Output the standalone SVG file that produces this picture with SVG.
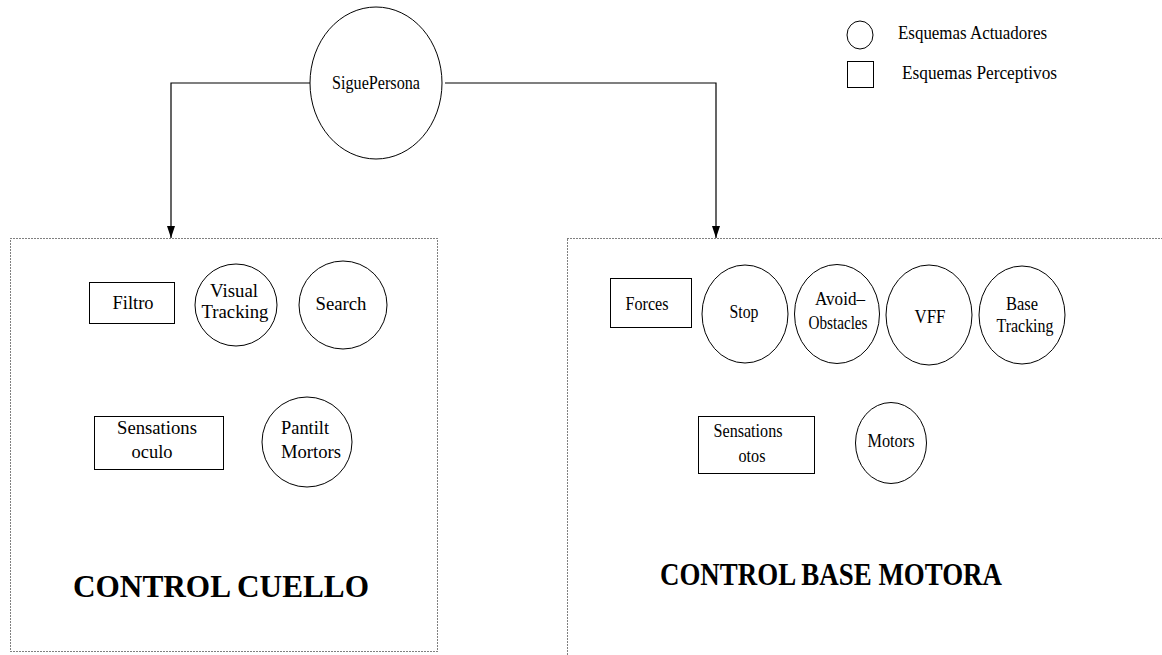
<svg xmlns="http://www.w3.org/2000/svg" width="1162" height="655" viewBox="0 0 1162 655">
  <style>
    .shape { fill: #fff; stroke: #000; stroke-width: 1; }
    .group { fill: none; stroke: #000; stroke-width: 1; stroke-dasharray: 1 2; }
    .link { fill: none; stroke: #000; stroke-width: 1.2; }
    text { font-family: "Liberation Serif", "Times New Roman", serif; fill: #000; }
    .t18 { font-size: 18px; }
    .title { font-size: 32px; font-weight: bold; }
    .mid { text-anchor: middle; }
  </style>
  <defs>
    <marker id="arrow" viewBox="0 0 12 8" refX="12" refY="4" markerWidth="12" markerHeight="8" markerUnits="userSpaceOnUse" orient="auto">
      <path d="M0,0 L12,4 L0,8 Z" fill="#000"/>
    </marker>
  </defs>

  <!-- Root schema -->
  <g id="siguepersona">
    <ellipse class="shape" cx="376" cy="83" rx="66" ry="76"/>
    <text class="t18 mid" x="376" y="89" textLength="88" lengthAdjust="spacingAndGlyphs">SiguePersona</text>
  </g>

  <!-- Legend -->
  <g id="legend">
    <ellipse class="shape" cx="860" cy="35" rx="13" ry="14"/>
    <text class="t18" x="898" y="39" textLength="149" lengthAdjust="spacingAndGlyphs">Esquemas Actuadores</text>
    <rect class="shape" x="847.5" y="61.5" width="26" height="26"/>
    <text class="t18" x="902" y="79" textLength="155" lengthAdjust="spacingAndGlyphs">Esquemas Perceptivos</text>
  </g>

  <!-- Connectors -->
  <g id="connectors">
    <path class="link" d="M310,83 H171 V238" marker-end="url(#arrow)"/>
    <path class="link" d="M445,83 H716 V238" marker-end="url(#arrow)"/>
  </g>

  <!-- Neck control block -->
  <g id="control-cuello">
    <rect class="group" x="10.5" y="238.5" width="427" height="413"/>
    <text class="title mid" x="221" y="597" textLength="296" lengthAdjust="spacingAndGlyphs">CONTROL CUELLO</text>
  </g>
  <g id="filtro">
    <rect class="shape" x="89.5" y="282.5" width="85" height="41"/>
    <text class="t18 mid" x="133" y="309" textLength="41" lengthAdjust="spacingAndGlyphs">Filtro</text>
  </g>
  <g id="visual-tracking">
    <ellipse class="shape" cx="236" cy="305" rx="41" ry="41"/>
    <text class="t18 mid" x="234" y="297" textLength="48" lengthAdjust="spacingAndGlyphs">Visual</text>
    <text class="t18 mid" x="235" y="318" textLength="67" lengthAdjust="spacingAndGlyphs">Tracking</text>
  </g>
  <g id="search">
    <ellipse class="shape" cx="343" cy="305" rx="44" ry="44"/>
    <text class="t18 mid" x="341" y="310" textLength="51" lengthAdjust="spacingAndGlyphs">Search</text>
  </g>
  <g id="sensations-oculo">
    <rect class="shape" x="94.5" y="416.5" width="129" height="53"/>
    <text class="t18 mid" x="157" y="434" textLength="80" lengthAdjust="spacingAndGlyphs">Sensations</text>
    <text class="t18 mid" x="152" y="458" textLength="41" lengthAdjust="spacingAndGlyphs">oculo</text>
  </g>
  <g id="pantilt-mortors">
    <ellipse class="shape" cx="307" cy="442" rx="45" ry="45"/>
    <text class="t18" x="281" y="434" textLength="48" lengthAdjust="spacingAndGlyphs">Pantilt</text>
    <text class="t18" x="281" y="458" textLength="60" lengthAdjust="spacingAndGlyphs">Mortors</text>
  </g>

  <!-- Motor base control block -->
  <g id="control-base-motora">
    <rect class="group" x="567.5" y="238.5" width="620" height="440"/>
    <text class="title mid" x="831" y="585" textLength="342" lengthAdjust="spacingAndGlyphs">CONTROL BASE MOTORA</text>
  </g>
  <g id="forces">
    <rect class="shape" x="610.5" y="278.5" width="81" height="49"/>
    <text class="t18 mid" x="647" y="310" textLength="43" lengthAdjust="spacingAndGlyphs">Forces</text>
  </g>
  <g id="stop">
    <ellipse class="shape" cx="745" cy="314" rx="43" ry="49"/>
    <text class="t18 mid" x="744" y="318" textLength="29" lengthAdjust="spacingAndGlyphs">Stop</text>
  </g>
  <g id="avoid-obstacles">
    <ellipse class="shape" cx="837" cy="314" rx="42.5" ry="49.5"/>
    <text class="t18 mid" x="840" y="305" textLength="50" lengthAdjust="spacingAndGlyphs">Avoid–</text>
    <text class="t18 mid" x="838" y="329" textLength="59" lengthAdjust="spacingAndGlyphs">Obstacles</text>
  </g>
  <g id="vff">
    <ellipse class="shape" cx="929" cy="315" rx="43" ry="50"/>
    <text class="t18 mid" x="930" y="323" textLength="31" lengthAdjust="spacingAndGlyphs">VFF</text>
  </g>
  <g id="base-tracking">
    <ellipse class="shape" cx="1022" cy="315" rx="43" ry="49"/>
    <text class="t18 mid" x="1022" y="310" textLength="32" lengthAdjust="spacingAndGlyphs">Base</text>
    <text class="t18 mid" x="1025" y="332" textLength="57" lengthAdjust="spacingAndGlyphs">Tracking</text>
  </g>
  <g id="sensations-otos">
    <rect class="shape" x="698.5" y="416.5" width="116" height="57"/>
    <text class="t18 mid" x="748" y="437" textLength="69" lengthAdjust="spacingAndGlyphs">Sensations</text>
    <text class="t18 mid" x="752" y="462" textLength="27" lengthAdjust="spacingAndGlyphs">otos</text>
  </g>
  <g id="motors">
    <ellipse class="shape" cx="891" cy="443" rx="35.5" ry="40.5"/>
    <text class="t18 mid" x="891" y="447" textLength="47" lengthAdjust="spacingAndGlyphs">Motors</text>
  </g>
</svg>
